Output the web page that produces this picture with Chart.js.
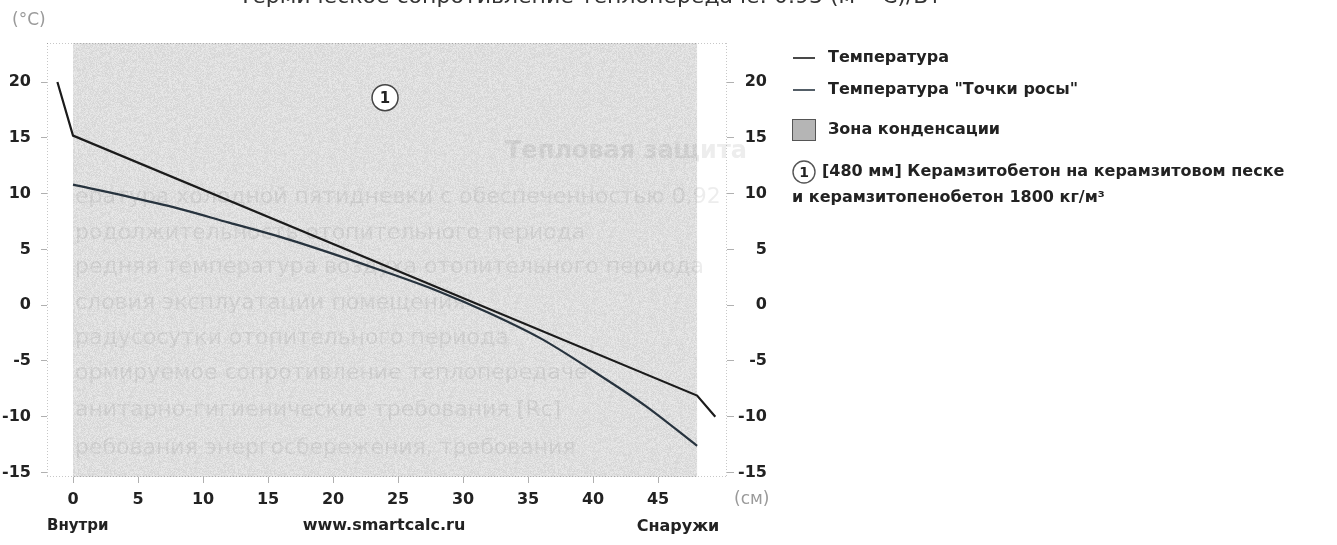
<!DOCTYPE html>
<html lang="ru">
<head>
<meta charset="utf-8">
<title>Распределение температуры в конструкции</title>
<script src="https://cdn.jsdelivr.net/npm/chart.js@4.4.1/dist/chart.umd.min.js"></script>
<style>
  html, body { margin: 0; padding: 0; background: #fff; }
  #wrap { position: relative; width: 1337px; height: 545px; }
</style>
</head>
<body>
<div id="wrap"><canvas id="chart" width="1337" height="545"></canvas></div>
<script>
// --- data ---
// temperature through the wall: inner air, inner surface, outer surface, outer air
var tempX = [-1.2, 0, 48, 49.4];
var tempY = [20, 15.2, -8.1, -10];

// dew point ("Точки росы") inside the layer
var dewX = [0, 4, 8, 12, 16, 20, 24, 28, 32, 36, 40, 44, 48];
var dewY = [10.8, 9.8, 8.7, 7.4, 6.1, 4.6, 3.0, 1.3, -0.7, -3.0, -5.9, -9.0, -12.6];

var yTicks = [-15, -10, -5, 0, 5, 10, 15, 20];
var xTicks = [0, 5, 10, 15, 20, 25, 30, 35, 40, 45];

var seriesLabels = ['Температура', 'Температура "Точки росы"'];
var zoneLabel = 'Зона конденсации';

// layer 1 (cm)
var layerFrom = 0;
var layerTo = 48;
var layerNo = '1';
var layerText = ['[480 мм] Керамзитобетон на керамзитовом песке', 'и керамзитопенобетон 1800 кг/м³'];

var FONT = '"DejaVu Sans", "Liberation Sans", Arial, sans-serif';

// grainy scan texture for the layer fill
function makeGrain(ctx) {
  var c = document.createElement('canvas');
  c.width = 160; c.height = 160;
  var g = c.getContext('2d');
  var img = g.createImageData(160, 160);
  var seed = 12345;
  function lcg() { seed = (seed * 1103515245 + 12345) % 2147483648; return seed / 2147483648; }
  for (var i = 0; i < 160 * 160; i++) {
    var v = 212 + Math.floor(lcg() * 22);
    img.data[i * 4] = v; img.data[i * 4 + 1] = v; img.data[i * 4 + 2] = v; img.data[i * 4 + 3] = 255;
  }
  g.putImageData(img, 0, 0);
  return ctx.createPattern(c, 'repeat');
}

var ghostRows = [
  { y: 197, text: 'ература холодной пятидневки с обеспеченностью 0,92' },
  { y: 233, text: 'родолжительность отопительного периода' },
  { y: 267, text: 'редняя температура воздуха отопительного периода' },
  { y: 303, text: 'словия эксплуатации помещения' },
  { y: 338, text: 'радусосутки отопительного периода' },
  { y: 373, text: 'ормируемое сопротивление теплопередаче' },
  { y: 410, text: 'анитарно-гигиенические требования [Rc]' },
  { y: 448, text: 'ребования энергосбережения, требования' }
];

var backdrop = {
  id: 'backdrop',
  beforeDatasetsDraw: function (chart) {
    var ctx = chart.ctx, a = chart.chartArea, x = chart.scales.x;
    var x0 = x.getPixelForValue(layerFrom), x1 = x.getPixelForValue(layerTo);
    ctx.save();
    ctx.fillStyle = makeGrain(ctx);
    ctx.fillRect(x0, a.top, x1 - x0, a.bottom - a.top);

    // faint bleed-through text from the scanned page
    ctx.beginPath();
    ctx.rect(x0, a.top, a.right + 25 - x0, a.bottom - a.top);
    ctx.clip();
    ctx.fillStyle = 'rgba(90,90,90,0.11)';
    ctx.textBaseline = 'middle';
    ctx.textAlign = 'left';
    ctx.font = 'bold 24px ' + FONT;
    ctx.fillText('Тепловая защита', 505, 152);
    ctx.font = '22px ' + FONT;
    ghostRows.forEach(function (r) { ctx.fillText(r.text, x0 + 2, r.y); });
    ctx.restore();

    // dotted frame
    ctx.save();
    ctx.strokeStyle = 'rgba(0,0,0,0.22)';
    ctx.setLineDash([1, 2]);
    ctx.lineWidth = 1;
    ctx.beginPath();
    ctx.moveTo(a.left + 0.5, a.top); ctx.lineTo(a.left + 0.5, a.bottom);
    ctx.moveTo(a.right - 0.5, a.top); ctx.lineTo(a.right - 0.5, a.bottom);
    ctx.moveTo(a.left, a.top + 0.5); ctx.lineTo(a.right, a.top + 0.5);
    ctx.moveTo(a.left, a.bottom - 0.5); ctx.lineTo(a.right, a.bottom - 0.5);
    ctx.stroke();
    ctx.restore();
  },
  afterDraw: function (chart) {
    var ctx = chart.ctx, x = chart.scales.x, y = chart.scales.y;
    ctx.save();

    // layer number
    var cx = x.getPixelForValue((layerFrom + layerTo) / 2), cy = y.getPixelForValue(18.6);
    ctx.beginPath();
    ctx.arc(cx, cy, 13, 0, Math.PI * 2);
    ctx.fillStyle = '#fff'; ctx.fill();
    ctx.lineWidth = 1.5; ctx.strokeStyle = '#444'; ctx.stroke();
    ctx.fillStyle = '#222';
    ctx.font = 'bold 15px ' + FONT;
    ctx.textAlign = 'center'; ctx.textBaseline = 'middle';
    ctx.fillText(layerNo, cx, cy + 1);

    // title cut off by the top edge
    ctx.font = '22px ' + FONT;
    ctx.fillStyle = '#333';
    ctx.textBaseline = 'alphabetic';
    ctx.fillText('Термическое сопротивление теплопередаче: 0.93 (м²·°С)/Вт', 590, 3);

    // axis units
    ctx.fillStyle = '#9a9a9a';
    ctx.font = '17px ' + FONT;
    ctx.textAlign = 'left'; ctx.textBaseline = 'middle';
    ctx.fillText('(°C)', 12, 21);
    ctx.fillText('(см)', 734, 500);

    // bottom captions
    ctx.fillStyle = '#222';
    ctx.font = 'bold 15px ' + FONT;
    ctx.textAlign = 'left';
    ctx.fillText('Внутри', 47, 526);
    ctx.textAlign = 'center';
    ctx.font = 'bold 16px ' + FONT;
    ctx.fillText('www.smartcalc.ru', 384, 526);
    ctx.fillText('Снаружи', 678, 527);

    // legend
    var lx = 793, tx = 828;
    ctx.font = 'bold 16px ' + FONT;
    ctx.textAlign = 'left';
    ctx.lineWidth = 1.6;
    [58, 90].forEach(function (ly, i) {
      ctx.strokeStyle = i === 0 ? '#1b1b1b' : '#2a3642';
      ctx.beginPath(); ctx.moveTo(lx, ly); ctx.lineTo(lx + 22, ly); ctx.stroke();
      ctx.fillStyle = '#222';
      ctx.fillText(seriesLabels[i], tx, ly);
    });
    ctx.fillStyle = '#b5b5b5';
    ctx.fillRect(792, 119, 24, 22);
    ctx.strokeStyle = '#555'; ctx.lineWidth = 1;
    ctx.strokeRect(792.5, 119.5, 23, 21);
    ctx.fillStyle = '#222';
    ctx.fillText(zoneLabel, tx, 130);

    ctx.beginPath();
    ctx.arc(804, 172, 11, 0, Math.PI * 2);
    ctx.fillStyle = '#fff'; ctx.fill();
    ctx.strokeStyle = '#555'; ctx.lineWidth = 1.4; ctx.stroke();
    ctx.fillStyle = '#222';
    ctx.textAlign = 'center';
    ctx.font = 'bold 14px ' + FONT;
    ctx.fillText(layerNo, 804, 173);
    ctx.textAlign = 'left';
    ctx.font = 'bold 16px ' + FONT;
    ctx.fillText(layerText[0], 822, 172);
    ctx.fillText(layerText[1], 792, 198);

    ctx.restore();
  }
};

function pairs(xs, ys) {
  return xs.map(function (v, i) { return { x: v, y: ys[i] }; });
}

function setTicks(list) {
  return function (axis) { axis.ticks = list.map(function (v) { return { value: v }; }); };
}

var tickFont = { family: FONT, size: 16, weight: 'bold' };

new Chart(document.getElementById('chart').getContext('2d'), {
  type: 'line',
  data: {
    datasets: [
      {
        label: seriesLabels[0],
        data: pairs(tempX, tempY),
        borderColor: '#1b1b1b',
        borderWidth: 2.2,
        pointRadius: 0,
        tension: 0
      },
      {
        label: seriesLabels[1],
        data: pairs(dewX, dewY),
        borderColor: '#27333e',
        borderWidth: 2.2,
        pointRadius: 0,
        cubicInterpolationMode: 'monotone'
      }
    ]
  },
  plugins: [backdrop],
  options: {
    responsive: false,
    animation: false,
    layout: { padding: { top: 43, right: 570, bottom: 0, left: 0 } },
    plugins: { legend: { display: false }, tooltip: { enabled: false } },
    scales: {
      x: {
        type: 'linear',
        min: -2,
        max: 50.3,
        afterBuildTicks: setTicks(xTicks),
        afterFit: function (s) { s.height = 68; },
        grid: { drawOnChartArea: false, tickLength: 6, color: '#b0b0b0' },
        border: { display: false },
        ticks: { font: tickFont, color: '#222', padding: 7, maxRotation: 0 }
      },
      y: {
        position: 'left',
        min: -15.4,
        max: 23.5,
        afterBuildTicks: setTicks(yTicks),
        afterFit: function (s) { s.width = 47; },
        grid: { drawOnChartArea: false, tickLength: 6, color: '#b0b0b0' },
        border: { display: false },
        ticks: { font: tickFont, color: '#222', padding: 10 }
      },
      y2: {
        position: 'right',
        display: true,
        min: -15.4,
        max: 23.5,
        afterBuildTicks: setTicks(yTicks),
        afterFit: function (s) { s.width = 40; },
        grid: { drawOnChartArea: false, tickLength: 7, color: '#b0b0b0' },
        border: { display: false },
        ticks: { font: tickFont, color: '#222', padding: 6, crossAlign: 'far' }
      }
    }
  }
});
</script>
</body>
</html>
